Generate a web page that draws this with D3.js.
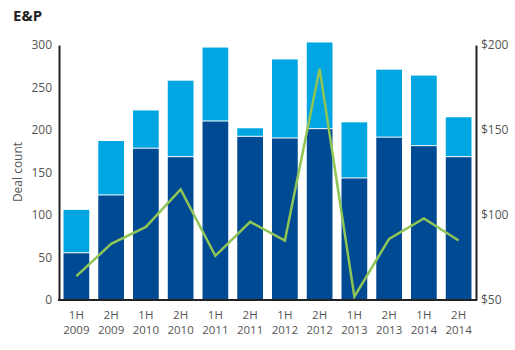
<!DOCTYPE html>
<html><head><meta charset="utf-8">
<script src="https://cdn.jsdelivr.net/npm/d3@7"></script>
<style>body{margin:0;background:#fff;} text{font-family:"Open Sans","Noto Sans",sans-serif;}</style>
</head><body>
<svg id="c" width="515" height="350"></svg>
<script>
const halves = ["1H","2H","1H","2H","1H","2H","1H","2H","1H","2H","1H","2H"];
const years = ["2009","2009","2010","2010","2011","2011","2012","2012","2013","2013","2014","2014"];
const darkCounts = [55,123,178,168,210,192,190,201,143,191,181,168];
const lightCounts = [51,64,45,90,87,10,93,102,66,80,83,47];
const lineValues = [64,83,93,115,76,96,85,186,52,86,98,85];
const leftTicks = [0,50,100,150,200,250,300];
const rightTicks = [50,100,150,200];

const svg = d3.select("#c");
const L = 59, R = 476, T = 45, B = 300;
const cats = halves.map((h,i)=>h+" "+years[i]);
const x = d3.scaleBand().domain(cats).range([L,R]).paddingInner(0.26).paddingOuter(0.13);
const y = d3.scaleLinear().domain([0,300]).range([B,T]);
const y2 = d3.scaleLinear().domain([50,200]).range([B,T]);

svg.append("text").attr("x",13).attr("y",21).attr("font-size",15).attr("font-weight","bold").attr("fill","#222").text("E&P");

// bars
const g = svg.append("g");
cats.forEach((c,i)=>{
  g.append("rect").attr("x",x(c)).attr("width",x.bandwidth())
   .attr("y",y(darkCounts[i])).attr("height",y(0)-y(darkCounts[i])).attr("fill","#004a93");
  const top = darkCounts[i]+lightCounts[i];
  g.append("rect").attr("x",x(c)).attr("width",x.bandwidth())
   .attr("y",y(top)).attr("height",y(darkCounts[i])-y(top)-1).attr("fill","#00a6e2");
});

// line
const line = d3.line().x((d,i)=>x(cats[i])+x.bandwidth()/2).y(d=>y2(d));
svg.append("path").datum(lineValues).attr("d",line).attr("fill","none")
  .attr("stroke","#8fc557").attr("stroke-width",2.5).attr("stroke-linejoin","miter");

// axes
const axL = svg.append("g").attr("transform",`translate(${L},0)`)
  .call(d3.axisLeft(y).tickValues(leftTicks).tickSize(0).tickPadding(7));
const axR = svg.append("g").attr("transform",`translate(${R},0)`)
  .call(d3.axisRight(y2).tickValues(rightTicks).tickSize(0).tickPadding(5).tickFormat(d=>"$"+d));
const axB = svg.append("g").attr("transform",`translate(0,${B})`)
  .call(d3.axisBottom(x).tickSize(0).tickFormat(""));
[axL,axR,axB].forEach(a=>{
  a.select(".domain").attr("stroke","#222").attr("stroke-width",2);
  a.selectAll("text").attr("font-size",12).attr("fill","#555").attr("font-family","'Open Sans',sans-serif");
});
axB.select(".domain").attr("d",`M${L-1},0H${R+1}`);

const xl = svg.append("g");
cats.forEach((c,i)=>{
  const cx = x(c)+x.bandwidth()/2;
  xl.append("text").attr("x",cx).attr("y",319).attr("text-anchor","middle").attr("font-size",11.5).attr("fill","#555").text(halves[i]);
  xl.append("text").attr("x",cx).attr("y",334).attr("text-anchor","middle").attr("font-size",11.5).attr("fill","#555").text(years[i]);
});

svg.append("text").attr("transform","translate(22,172) rotate(-90)").attr("text-anchor","middle")
  .attr("font-size",12).attr("fill","#555").text("Deal count");
</script>
</body></html>
